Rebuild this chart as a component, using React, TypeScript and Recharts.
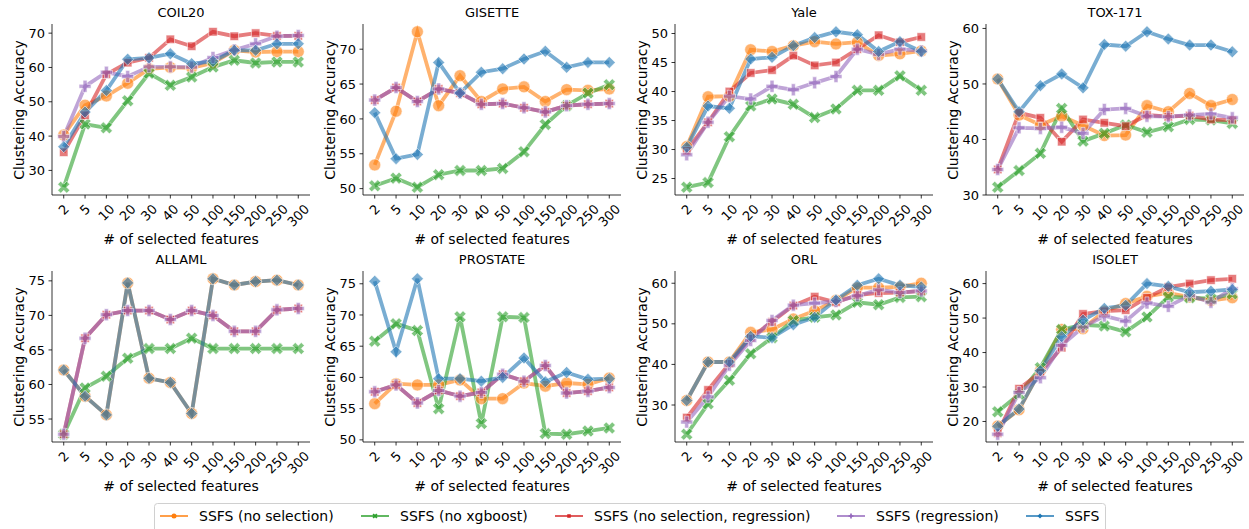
import React from "react";
import { Line, LineChart, XAxis, YAxis } from "recharts";

const FEATURES = ["2", "5", "10", "20", "30", "40", "50", "100", "150", "200", "250", "300"];
const SERIES_NAMES = [
  "SSFS (no selection)",
  "SSFS (no xgboost)",
  "SSFS (no selection, regression)",
  "SSFS (regression)",
  "SSFS",
];

// COIL20
const coil20NoSel = [40.3, 49.0, 51.7, 55.4, 59.6, 60.0, 59.9, 61.3, 65.0, 64.5, 64.6, 64.6];
const coil20NoXgb = [25.1, 43.5, 42.4, 50.3, 58.3, 54.8, 57.2, 60.1, 62.1, 61.3, 61.6, 61.6];
const coil20NoSelReg = [35.3, 46.1, 58.0, 61.4, 62.8, 68.2, 66.2, 70.4, 69.1, 70.0, 69.2, 69.2];
const coil20Reg = [39.9, 54.5, 58.6, 57.4, 60.2, 60.2, 60.1, 62.9, 65.1, 66.9, 69.1, 69.3];
const coil20Ssfs = [36.9, 47.0, 53.3, 62.4, 62.8, 64.0, 61.1, 61.8, 65.0, 65.0, 66.9, 66.9];
const coil20Ticks = [30, 40, 50, 60, 70];

// GISETTE
const gisetteNoSel = [53.4, 61.1, 72.5, 61.9, 66.2, 62.5, 64.3, 64.6, 62.5, 64.2, 64.1, 64.3];
const gisetteNoXgb = [50.4, 51.5, 50.2, 52.0, 52.6, 52.6, 52.9, 55.3, 59.2, 61.9, 63.7, 64.9];
const gisetteNoSelReg = [62.7, 64.5, 62.5, 64.3, 63.7, 62.1, 62.2, 61.6, 61.0, 61.9, 62.1, 62.2];
const gisetteReg = [62.7, 64.5, 62.5, 64.3, 63.7, 62.1, 62.2, 61.6, 61.0, 61.9, 62.1, 62.2];
const gisetteSsfs = [60.9, 54.3, 54.9, 68.1, 63.7, 66.7, 67.2, 68.6, 69.7, 67.4, 68.1, 68.1];
const gisetteTicks = [50, 55, 60, 65, 70];

// Yale
const yaleNoSel = [30.5, 39.1, 39.2, 47.2, 46.9, 47.9, 48.6, 48.2, 48.5, 46.2, 46.5, 47.0];
const yaleNoXgb = [23.5, 24.3, 32.2, 37.5, 38.7, 37.8, 35.5, 37.0, 40.2, 40.2, 42.7, 40.2];
const yaleNoSelReg = [29.8, 34.7, 40.0, 43.2, 43.7, 46.2, 44.5, 45.0, 47.3, 49.7, 48.5, 49.4];
const yaleReg = [29.1, 34.7, 39.2, 38.7, 40.9, 40.3, 41.5, 42.6, 47.3, 46.4, 47.3, 47.0];
const yaleSsfs = [30.4, 37.5, 37.1, 45.6, 45.9, 47.9, 49.3, 50.3, 49.8, 46.9, 48.6, 46.9];
const yaleTicks = [25, 30, 35, 40, 45, 50];

// TOX-171
const toxNoSel = [50.9, 44.4, 42.6, 44.2, 42.5, 40.7, 40.8, 46.1, 45.0, 48.3, 46.1, 47.2];
const toxNoXgb = [31.4, 34.4, 37.5, 45.6, 39.7, 41.1, 42.6, 41.3, 42.3, 43.6, 43.5, 42.9];
const toxNoSelReg = [34.6, 44.8, 43.9, 39.6, 43.6, 43.0, 42.4, 44.4, 44.1, 44.3, 43.6, 43.5];
const toxReg = [34.6, 42.1, 42.0, 42.2, 41.1, 45.4, 45.6, 44.2, 44.1, 44.4, 44.6, 43.9];
const toxSsfs = [50.9, 45.0, 49.7, 51.8, 49.3, 57.1, 56.8, 59.4, 58.1, 57.0, 57.0, 55.8];
const toxTicks = [30, 40, 50, 60];

// ALLAML
const allamlNoSel = [62.1, 58.3, 55.6, 74.7, 60.9, 60.3, 55.8, 75.3, 74.4, 74.9, 75.1, 74.4];
const allamlNoXgb = [52.8, 59.5, 61.2, 63.8, 65.2, 65.2, 66.7, 65.2, 65.2, 65.2, 65.2, 65.2];
const allamlNoSelReg = [52.8, 66.7, 70.1, 70.7, 70.7, 69.4, 70.7, 70.0, 67.7, 67.7, 70.8, 71.0];
const allamlReg = [52.8, 66.7, 70.1, 70.7, 70.7, 69.4, 70.7, 70.0, 67.7, 67.7, 70.8, 71.0];
const allamlSsfs = [62.1, 58.3, 55.6, 74.7, 60.9, 60.3, 55.8, 75.3, 74.4, 74.9, 75.1, 74.4];
const allamlTicks = [55, 60, 65, 70, 75];

// PROSTATE
const prostateNoSel = [55.8, 59.0, 58.8, 58.8, 59.6, 56.6, 56.6, 59.1, 58.6, 59.1, 58.9, 59.9];
const prostateNoXgb = [65.8, 68.6, 67.5, 55.0, 69.7, 52.6, 69.7, 69.6, 51.0, 50.9, 51.4, 51.9];
const prostateNoSelReg = [57.7, 58.8, 55.9, 57.9, 57.0, 57.6, 60.5, 59.4, 61.9, 57.5, 57.8, 58.4];
const prostateReg = [57.7, 58.8, 55.9, 57.9, 57.0, 57.6, 60.5, 59.4, 61.9, 57.5, 57.8, 58.4];
const prostateSsfs = [75.4, 64.1, 75.8, 59.8, 59.8, 59.4, 60.0, 63.1, 59.3, 60.8, 59.7, 59.8];
const prostateTicks = [50, 55, 60, 65, 70, 75];

// ORL
const orlNoSel = [31.1, 40.6, 40.6, 47.9, 48.6, 51.2, 53.2, 55.8, 58.9, 58.9, 59.1, 60.0];
const orlNoXgb = [22.8, 30.3, 36.1, 42.6, 46.6, 50.8, 51.6, 52.2, 55.3, 54.7, 56.5, 56.7];
const orlNoSelReg = [26.9, 33.7, 40.2, 46.6, 50.5, 54.5, 56.7, 55.3, 57.1, 57.6, 57.7, 58.1];
const orlReg = [25.8, 32.0, 39.8, 45.9, 50.8, 54.6, 55.1, 55.5, 56.9, 58.4, 57.7, 58.1];
const orlSsfs = [31.1, 40.6, 40.6, 46.9, 46.6, 49.8, 51.6, 55.9, 59.5, 61.1, 59.5, 59.1];
const orlTicks = [30, 40, 50, 60];

// ISOLET
const isoletNoSel = [18.7, 23.4, 34.8, 46.7, 46.9, 52.0, 54.2, 56.3, 57.3, 56.1, 55.1, 55.9];
const isoletNoXgb = [22.8, 27.9, 35.6, 46.7, 48.0, 47.7, 46.0, 50.3, 56.1, 55.9, 55.6, 57.0];
const isoletNoSelReg = [16.6, 29.5, 34.2, 41.4, 51.2, 52.0, 52.3, 55.9, 59.0, 60.0, 61.0, 61.4];
const isoletReg = [16.3, 28.4, 32.7, 42.1, 47.4, 50.6, 49.1, 54.4, 53.4, 56.5, 54.6, 58.5];
const isoletSsfs = [18.6, 23.6, 34.7, 44.6, 49.4, 52.8, 53.7, 60.0, 59.2, 57.5, 57.8, 58.3];
const isoletTicks = [20, 30, 40, 50, 60];

const PANELS = [
  { title: "COIL20", ticks: coil20Ticks, series: [coil20NoSel, coil20NoXgb, coil20NoSelReg, coil20Reg, coil20Ssfs] },
  { title: "GISETTE", ticks: gisetteTicks, series: [gisetteNoSel, gisetteNoXgb, gisetteNoSelReg, gisetteReg, gisetteSsfs] },
  { title: "Yale", ticks: yaleTicks, series: [yaleNoSel, yaleNoXgb, yaleNoSelReg, yaleReg, yaleSsfs] },
  { title: "TOX-171", ticks: toxTicks, series: [toxNoSel, toxNoXgb, toxNoSelReg, toxReg, toxSsfs] },
  { title: "ALLAML", ticks: allamlTicks, series: [allamlNoSel, allamlNoXgb, allamlNoSelReg, allamlReg, allamlSsfs] },
  { title: "PROSTATE", ticks: prostateTicks, series: [prostateNoSel, prostateNoXgb, prostateNoSelReg, prostateReg, prostateSsfs] },
  { title: "ORL", ticks: orlTicks, series: [orlNoSel, orlNoXgb, orlNoSelReg, orlReg, orlSsfs] },
  { title: "ISOLET", ticks: isoletTicks, series: [isoletNoSel, isoletNoXgb, isoletNoSelReg, isoletReg, isoletSsfs] },
];

// styling / layout
const COLORS = ["#ff7f0e", "#2ca02c", "#d62728", "#9467bd", "#1f77b4"];
const SHAPES = ["circle", "x", "square", "plus", "diamond"];
const FONT = "'DejaVu Sans', 'Liberation Sans', sans-serif";
const TICK_FS = 13;
const LABEL_FS = 14;
const PLOT_W = 258;
const PLOT_H = 171;
const COL_X = [52, 363, 675, 986];
const ROW_Y = [24, 271];
const AXIS_W = 52;
const XAXIS_H = 60;
const LEGEND_X = [160, 361, 555, 837, 1026];

const X_PTS = [[-1, -2], [0, -1], [1, -2], [2, -1], [1, 0], [2, 1], [1, 2], [0, 1], [-1, 2], [-2, 1], [-1, 0], [-2, -1]];
const P_PTS = [[-1, -3], [1, -3], [1, -1], [3, -1], [3, 1], [1, 1], [1, 3], [-1, 3], [-1, 1], [-3, 1], [-3, -1], [-1, -1]];

function Marker({ shape, cx, cy, color, size, opacity, edge }: any) {
  if (cx == null || cy == null) return null;
  const style = {
    fill: color,
    fillOpacity: opacity,
    stroke: edge,
    strokeOpacity: opacity,
    strokeWidth: edge === "none" ? 0 : 0.9,
  };
  if (shape === "circle") return <circle cx={cx} cy={cy} r={size / 2} {...style} />;
  if (shape === "square") {
    const h = size * 0.3536;
    return <rect x={cx - h} y={cy - h} width={2 * h} height={2 * h} {...style} />;
  }
  if (shape === "diamond") {
    const r = size / 2;
    return <polygon points={`${cx},${cy - r} ${cx + r},${cy} ${cx},${cy + r} ${cx - r},${cy}`} {...style} />;
  }
  const pts = shape === "x" ? X_PTS : P_PTS;
  const u = shape === "x" ? size / 4 : size / 6;
  return <polygon points={pts.map(([a, b]) => `${cx + a * u},${cy + b * u}`).join(" ")} {...style} />;
}

function XTick({ x, y, payload }: any) {
  const label = FEATURES[payload.value] ?? "";
  const w = label.length * TICK_FS * 0.636;
  const h = TICK_FS * 1.15;
  const cy = y + (w + h) / (2 * Math.SQRT2);
  return (
    <text
      x={x}
      y={cy}
      textAnchor="middle"
      dominantBaseline="central"
      transform={`rotate(-45 ${x} ${cy})`}
      fontSize={TICK_FS}
      fontFamily={FONT}
      fill="#000"
    >
      {label}
    </text>
  );
}

const axisStroke = { stroke: "#000", strokeWidth: 0.8 };

function Panel({ panel, left, top }: any) {
  const data = FEATURES.map((_, i) => {
    const row: any = { i };
    panel.series.forEach((s: number[], k: number) => (row["s" + k] = s[i]));
    return row;
  });
  const all = panel.series.flat();
  const lo = Math.min(...all);
  const hi = Math.max(...all);
  const pad = (hi - lo) * 0.05;
  const domain = [lo - pad, hi + pad];
  const xDomain = [-0.55, FEATURES.length - 1 + 0.55];

  return (
    <>
      <div style={{ position: "absolute", left: left - AXIS_W, top: top - 24 }}>
        <LineChart
          width={AXIS_W + PLOT_W + 4}
          height={24 + PLOT_H + XAXIS_H}
          data={data}
          margin={{ top: 24, right: 4, bottom: 0, left: 0 }}
        >
          <XAxis
            dataKey="i"
            type="number"
            domain={xDomain}
            ticks={FEATURES.map((_, i) => i)}
            interval={0}
            allowDataOverflow
            height={XAXIS_H}
            tickSize={3.5}
            tickMargin={3}
            axisLine={axisStroke}
            tickLine={axisStroke}
            tick={<XTick />}
          />
          <XAxis
            xAxisId="t"
            orientation="top"
            dataKey="i"
            type="number"
            domain={xDomain}
            allowDataOverflow
            height={0}
            tick={false}
            tickLine={false}
            axisLine={axisStroke}
          />
          <YAxis
            type="number"
            domain={domain}
            ticks={panel.ticks}
            interval={0}
            allowDataOverflow
            width={AXIS_W}
            tickSize={3.5}
            tickMargin={3.5}
            axisLine={axisStroke}
            tickLine={axisStroke}
            tick={{ fill: "#000", fontSize: TICK_FS, fontFamily: FONT }}
          />
          <YAxis
            yAxisId="r"
            orientation="right"
            type="number"
            domain={domain}
            allowDataOverflow
            width={0}
            tick={false}
            tickLine={false}
            axisLine={axisStroke}
          />
          {panel.series.map((_: number[], k: number) => (
            <Line
              key={k}
              type="linear"
              dataKey={"s" + k}
              stroke={COLORS[k]}
              strokeOpacity={0.6}
              strokeWidth={3.8}
              activeDot={false}
              isAnimationActive={false}
              dot={(p: any) => (
                <Marker
                  key={p.index}
                  shape={SHAPES[k]}
                  cx={p.cx}
                  cy={p.cy}
                  color={COLORS[k]}
                  size={12}
                  opacity={0.6}
                  edge="#ffffff"
                />
              )}
            />
          ))}
        </LineChart>
      </div>
      <div
        style={{
          position: "absolute",
          left,
          width: PLOT_W,
          top: top - 19,
          lineHeight: "16px",
          fontSize: 13,
          textAlign: "center",
          color: "#000",
        }}
      >
        {panel.title}
      </div>
      <div
        style={{
          position: "absolute",
          left,
          width: PLOT_W,
          top: top + PLOT_H + 35,
          lineHeight: "18px",
          fontSize: LABEL_FS,
          textAlign: "center",
          color: "#000",
          whiteSpace: "nowrap",
        }}
      >
        # of selected features
      </div>
      <div
        style={{
          position: "absolute",
          left: left - 34 - PLOT_H / 2,
          top: top + PLOT_H / 2 - 9,
          width: PLOT_H,
          lineHeight: "18px",
          fontSize: LABEL_FS,
          textAlign: "center",
          color: "#000",
          transform: "rotate(-90deg)",
          whiteSpace: "nowrap",
        }}
      >
        Clustering Accuracy
      </div>
    </>
  );
}

function Legend() {
  return (
    <svg style={{ position: "absolute", left: 0, top: 495 }} width={1249} height={34}>
      <rect x={154.5} y={8.5} width={951} height={32} rx={3} fill="#fff" stroke="#d0d0d0" strokeWidth={1} />
      {SERIES_NAMES.map((name, k) => {
        const x = LEGEND_X[k];
        return (
          <g key={name}>
            <line x1={x} x2={x + 28} y1={21} y2={21} stroke={COLORS[k]} strokeWidth={1.5} />
            <Marker shape={SHAPES[k]} cx={x + 14} cy={21} color={COLORS[k]} size={5} opacity={1} edge="none" />
            <text x={x + 39} y={21} dominantBaseline="central" fontSize={LABEL_FS} fontFamily={FONT} fill="#000">
              {name}
            </text>
          </g>
        );
      })}
    </svg>
  );
}

export default function App() {
  return (
    <div
      style={{
        position: "absolute",
        left: 0,
        top: 0,
        width: 1249,
        height: 529,
        overflow: "hidden",
        background: "#fff",
        fontFamily: FONT,
      }}
    >
      {PANELS.map((panel, idx) => (
        <Panel key={panel.title} panel={panel} left={COL_X[idx % 4]} top={ROW_Y[Math.floor(idx / 4)]} />
      ))}
      <Legend />
    </div>
  );
}
